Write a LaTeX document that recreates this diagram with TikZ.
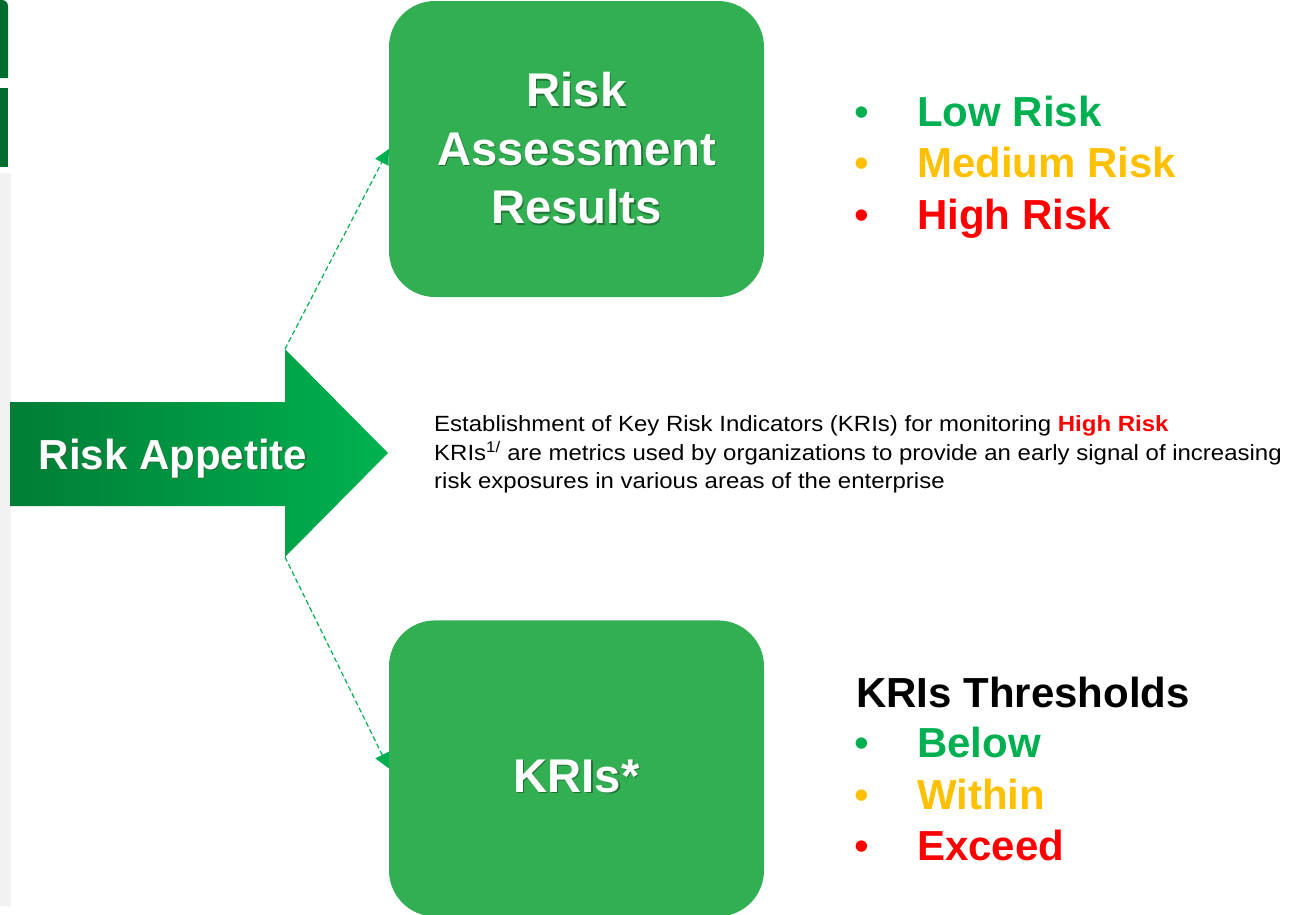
\documentclass[tikz,border=0pt]{standalone}
\usepackage{fontspec}
\setmainfont{Liberation Sans}
\newfontfamily\notefont[FakeStretch=1.09]{Liberation Sans}
\usetikzlibrary{positioning}
\usetikzlibrary{arrows.meta}

\definecolor{boxgreen}{RGB}{50,175,82}
\definecolor{tabgreen}{RGB}{2,108,46}
\definecolor{arrowdark}{RGB}{0,125,54}
\definecolor{arrowlight}{RGB}{0,178,80}
\definecolor{linkgreen}{RGB}{0,176,80}
\definecolor{lowgreen}{RGB}{0,176,80}
\definecolor{midamber}{RGB}{255,192,0}
\definecolor{highred}{RGB}{255,0,0}
\definecolor{sidegray}{RGB}{242,242,242}
\colorlet{shadowgreen}{black!35!boxgreen}

% white heading text with a small drop shadow
\newcommand\shadowed[1]{\makebox[0pt][l]{\hspace{1.3pt}\raisebox{-1.3pt}{\textcolor{shadowgreen}{#1}}}#1}

\begin{document}
\begin{tikzpicture}[x=1pt,y=-1pt,
    box/.style={fill=boxgreen, rounded corners=46pt, minimum width=375pt,
      minimum height=296pt, inner sep=0pt, text=white, align=center,
      font=\bfseries\fontsize{47.3}{58.5}\selectfont},
    link/.style={draw=linkgreen, line width=1.2pt, dash pattern=on 5pt off 3pt,
      -{Triangle[length=15pt,width=15pt]}},
    item/.style={anchor=base west, inner sep=0pt, font=\bfseries\fontsize{42}{50}\selectfont},
    dot/.style={anchor=base, inner sep=0pt, font=\fontsize{42}{50}\selectfont}]
  \useasboundingbox (0,0) rectangle (1307,914);

  % side tabs
  \fill[tabgreen] (0,78) -- (0,0) [rounded corners=6pt] -- (8,0) [sharp corners] -- (8,78) -- cycle;
  \fill[tabgreen] (0,88) rectangle (8,167);
  \fill[sidegray] (0,173) rectangle (10.5,906);

  % big arrow
  \shade[left color=arrowdark, right color=arrowlight]
    (10,402) -- (285,402) -- (285,349) coordinate (headtop) -- (388,453)
    -- (285,557) coordinate (headbot) -- (285,506) -- (10,506) -- cycle;
  \node[anchor=base, inner sep=0pt, text=white, font=\bfseries\fontsize{42}{50}\selectfont]
    (appetite) at (173,469.3) {\shadowed{Risk Appetite}};

  \node[box] (results) at (576.5,149) {\shadowed{Risk}\\\shadowed{Assessment}\\\shadowed{Results}};
  \node[box, below=323pt of results, text height=47.4pt, text depth=0pt] (kris) {\shadowed{KRIs*}};

  \draw[link] (headtop) -- (results.west);
  \draw[link] (headbot) -- (kris.west);

  \node[anchor=west, inner sep=0pt, align=left, font=\notefont\fontsize{22}{28.65}\selectfont]
    (note) at (434,454.5) {Establishment of Key Risk Indicators (KRIs) for monitoring \textcolor{highred}{\bfseries High Risk}\\
    KRIs\textsuperscript{1/} are metrics used by organizations to provide an early signal of increasing\\
    risk exposures in various areas of the enterprise};

  % risk levels
  \foreach \lbl/\col/\yy [count=\i] in {Low Risk/lowgreen/126.7, Medium Risk/midamber/177.7, High Risk/highred/229}{
    \node[dot, text=\col] (rdot\i) at (862,\yy) {•};
    \node[item, text=\col] (risk\i) at (917,\yy) {\lbl};
  }

  % thresholds
  \node[item] (thresh) at (856,707.3) {KRIs Thresholds};
  \foreach \lbl/\col/\yy [count=\i] in {Below/lowgreen/757.7, Within/midamber/809, Exceed/highred/860}{
    \node[dot, text=\col] (tdot\i) at (862,\yy) {•};
    \node[item, text=\col] (level\i) at (917,\yy) {\lbl};
  }
\end{tikzpicture}
\end{document}
